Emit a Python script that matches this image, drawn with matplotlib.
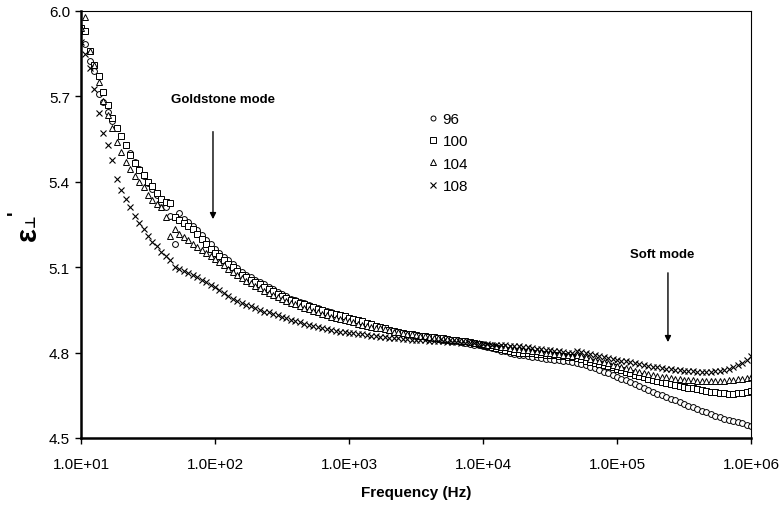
import matplotlib
matplotlib.use("Agg")
import matplotlib.pyplot as plt
from matplotlib.ticker import NullLocator

plt.rcParams['font.family'] = ['Liberation Sans', 'DejaVu Sans']

# frequency sweep (Hz), 30 points per decade
freq = [10, 10.8, 11.7, 12.6, 13.6, 14.7, 15.8, 17.1, 18.5, 20.0,
        21.5, 23.3, 25.1, 27.1, 29.3, 31.6, 34.1, 36.9, 39.8, 43.0,
        46.4, 50.1, 54.1, 58.4, 63.1, 68.1, 73.6, 79.4, 85.8, 92.6,
        100, 108, 117, 126, 136, 147, 158, 171, 185, 200,
        215, 233, 251, 271, 293, 316, 341, 369, 398, 430,
        464, 501, 541, 584, 631, 681, 736, 794, 858, 926,
        1000, 1080, 1170, 1260, 1360, 1470, 1580, 1710, 1850, 2000,
        2150, 2330, 2510, 2710, 2930, 3160, 3410, 3690, 3980, 4300,
        4640, 5010, 5410, 5840, 6310, 6810, 7360, 7940, 8580, 9260,
        10000, 10800, 11700, 12600, 13600, 14700, 15800, 17100, 18500, 20000,
        21500, 23300, 25100, 27100, 29300, 31600, 34100, 36900, 39800, 43000,
        46400, 50100, 54100, 58400, 63100, 68100, 73600, 79400, 85800, 92600,
        100000, 108000, 117000, 126000, 136000, 147000, 158000, 171000, 185000, 200000,
        215000, 233000, 251000, 271000, 293000, 316000, 341000, 369000, 398000, 430000,
        464000, 501000, 541000, 584000, 631000, 681000, 736000, 794000, 858000, 926000,
        1000000]

eps_96 = [5.93, 5.885, 5.825, 5.79, 5.71, 5.68, 5.645, 5.615, 5.59, 5.56,
          5.53, 5.50, 5.47, 5.445, 5.42, 5.395, 5.375, 5.355, 5.33, 5.31,
          5.28, 5.18, 5.29, 5.27, 5.258, 5.245, 5.23, 5.213, 5.195, 5.18,
          5.163, 5.15, 5.137, 5.124, 5.111, 5.096, 5.084, 5.074, 5.065, 5.056,
          5.048, 5.04, 5.032, 5.022, 5.013, 5.005, 4.998, 4.99, 4.984, 4.978,
          4.973, 4.967, 4.961, 4.956, 4.951, 4.946, 4.941, 4.936, 4.932, 4.928,
          4.923, 4.919, 4.914, 4.909, 4.904, 4.899, 4.894, 4.889, 4.885, 4.88,
          4.876, 4.872, 4.868, 4.865, 4.862, 4.859, 4.857, 4.855, 4.852, 4.85,
          4.848, 4.846, 4.844, 4.841, 4.839, 4.837, 4.834, 4.831, 4.828, 4.825,
          4.823, 4.819, 4.815, 4.811, 4.807, 4.804, 4.80, 4.796, 4.792, 4.79,
          4.787, 4.785, 4.783, 4.781, 4.779, 4.777, 4.775, 4.773, 4.771, 4.769,
          4.767, 4.764, 4.76, 4.755, 4.75, 4.745, 4.739, 4.733, 4.727, 4.721,
          4.716, 4.709, 4.702, 4.695, 4.688, 4.681, 4.674, 4.668, 4.662, 4.656,
          4.65, 4.644, 4.638, 4.632, 4.626, 4.62, 4.614, 4.608, 4.602, 4.596,
          4.59, 4.584, 4.578, 4.573, 4.568, 4.563, 4.559, 4.555, 4.551, 4.547,
          4.543]

eps_100 = [5.94, 5.93, 5.86, 5.81, 5.77, 5.715, 5.67, 5.625, 5.59, 5.56,
           5.53, 5.495, 5.465, 5.44, 5.425, 5.40, 5.385, 5.36, 5.34, 5.33,
           5.325, 5.275, 5.265, 5.255, 5.245, 5.233, 5.215, 5.20, 5.18, 5.165,
           5.15, 5.138, 5.125, 5.112, 5.10, 5.085, 5.073, 5.064, 5.055, 5.047,
           5.04, 5.032, 5.025, 5.015, 5.007, 5.0, 4.993, 4.986, 4.98, 4.975,
           4.97, 4.964, 4.959, 4.954, 4.949, 4.944, 4.94, 4.935, 4.931, 4.927,
           4.923, 4.919, 4.914, 4.91, 4.905, 4.90, 4.895, 4.89, 4.886, 4.881,
           4.877, 4.873, 4.87, 4.867, 4.864, 4.862, 4.86, 4.858, 4.856, 4.854,
           4.852, 4.85, 4.848, 4.846, 4.844, 4.842, 4.839, 4.836, 4.833, 4.83,
           4.827, 4.824, 4.82, 4.817, 4.813, 4.81, 4.806, 4.803, 4.80, 4.799,
           4.798, 4.797, 4.796, 4.794, 4.793, 4.792, 4.79, 4.789, 4.787, 4.786,
           4.784, 4.78, 4.776, 4.772, 4.768, 4.764, 4.76, 4.756, 4.752, 4.748,
           4.743, 4.738, 4.733, 4.728, 4.723, 4.718, 4.713, 4.708, 4.704, 4.70,
           4.696, 4.692, 4.689, 4.686, 4.683, 4.68, 4.677, 4.674, 4.671, 4.668,
           4.665, 4.662, 4.66, 4.658, 4.657, 4.656, 4.656, 4.657, 4.659, 4.662,
           4.665]

eps_104 = [5.94, 5.98, 5.86, 5.81, 5.75, 5.684, 5.635, 5.59, 5.54, 5.505,
           5.47, 5.445, 5.42, 5.40, 5.38, 5.355, 5.335, 5.322, 5.312, 5.275,
           5.21, 5.235, 5.217, 5.206, 5.195, 5.183, 5.17, 5.16, 5.15, 5.14,
           5.13, 5.118, 5.106, 5.094, 5.083, 5.072, 5.062, 5.052, 5.043, 5.034,
           5.026, 5.018, 5.01, 5.002, 4.995, 4.988, 4.981, 4.975, 4.969, 4.963,
           4.957, 4.952, 4.946, 4.941, 4.936, 4.931, 4.926, 4.922, 4.918, 4.914,
           4.91, 4.906, 4.902, 4.898, 4.895, 4.891, 4.888, 4.885, 4.882, 4.879,
           4.874, 4.871, 4.868, 4.866, 4.864, 4.862, 4.86, 4.857, 4.855, 4.853,
           4.851, 4.849, 4.847, 4.845, 4.843, 4.841, 4.839, 4.837, 4.835, 4.832,
           4.83, 4.828, 4.826, 4.824, 4.821, 4.819, 4.817, 4.814, 4.812, 4.81,
           4.808, 4.806, 4.804, 4.802, 4.80, 4.798, 4.796, 4.794, 4.792, 4.79,
           4.788, 4.79, 4.787, 4.783, 4.779, 4.775, 4.771, 4.767, 4.763, 4.758,
           4.753, 4.749, 4.745, 4.741, 4.737, 4.733, 4.729, 4.725, 4.722, 4.719,
           4.716, 4.713, 4.711, 4.709, 4.707, 4.705, 4.703, 4.702, 4.701, 4.70,
           4.699, 4.699, 4.699, 4.70, 4.701, 4.702, 4.704, 4.706, 4.709, 4.712,
           4.716]

eps_108 = [5.89, 5.85, 5.80, 5.726, 5.64, 5.57, 5.53, 5.475, 5.41, 5.37,
           5.34, 5.31, 5.28, 5.255, 5.235, 5.21, 5.19, 5.175, 5.155, 5.14,
           5.125, 5.10, 5.095, 5.088, 5.08, 5.072, 5.064, 5.056, 5.047, 5.038,
           5.03, 5.02, 5.01, 5.0, 4.99, 4.982, 4.975, 4.968, 4.962, 4.956,
           4.95, 4.944, 4.942, 4.937, 4.932, 4.926, 4.921, 4.916, 4.911, 4.906,
           4.90, 4.896, 4.892, 4.889, 4.886, 4.883, 4.88, 4.877, 4.874, 4.872,
           4.87, 4.868, 4.866, 4.864, 4.862, 4.86, 4.858, 4.856, 4.854, 4.852,
           4.851, 4.85, 4.848, 4.847, 4.846, 4.845, 4.844, 4.843, 4.842, 4.841,
           4.84, 4.839, 4.838, 4.837, 4.836, 4.835, 4.834, 4.833, 4.832, 4.831,
           4.83, 4.829, 4.828, 4.827, 4.826, 4.825, 4.824, 4.823, 4.822, 4.82,
           4.818, 4.816, 4.814, 4.812, 4.81, 4.808, 4.806, 4.804, 4.802, 4.80,
           4.798, 4.804, 4.801, 4.798, 4.795, 4.792, 4.789, 4.786, 4.782, 4.778,
           4.775, 4.772, 4.769, 4.766, 4.763, 4.76, 4.757, 4.754, 4.751, 4.748,
           4.746, 4.744, 4.742, 4.74, 4.738, 4.736, 4.735, 4.734, 4.733, 4.732,
           4.732, 4.733, 4.734, 4.736, 4.739, 4.743, 4.748, 4.755, 4.763, 4.774,
           4.787]

series_labels = ['96', '100', '104', '108']
xtick_vals = [1e1, 1e2, 1e3, 1e4, 1e5, 1e6]
xtick_labels = ['1.0E+01', '1.0E+02', '1.0E+03', '1.0E+04', '1.0E+05', '1.0E+06']
ytick_vals = [4.5, 4.8, 5.1, 5.4, 5.7, 6.0]

fig = plt.figure(figsize=(7.83, 5.06), dpi=100)
ax = fig.add_axes([81/783, 1 - 439/506, 670/783, 427/506])

ax.plot(freq, eps_96, 'o', ms=4.2, mfc='white', mec='black', mew=0.7, label=series_labels[0])
ax.plot(freq, eps_100, 's', ms=4.6, mfc='white', mec='black', mew=0.7, label=series_labels[1])
ax.plot(freq, eps_104, '^', ms=4.6, mfc='white', mec='black', mew=0.7, label=series_labels[2])
ax.plot(freq, eps_108, 'x', ms=4.6, color='black', mew=0.8, label=series_labels[3])

ax.set_xscale('log')
ax.set_xlim(10, 1e6)
ax.set_ylim(4.5, 6.0)
ax.set_xticks(xtick_vals)
ax.set_xticklabels(xtick_labels)
ax.xaxis.set_minor_locator(NullLocator())
ax.set_yticks(ytick_vals)
ax.set_yticklabels(['%.1f' % v for v in ytick_vals])
ax.tick_params(axis='both', direction='out', length=4, width=1, labelsize=11, colors='black')
ax.tick_params(axis='x', pad=10)
ax.tick_params(axis='y', pad=4)

ax.spines['left'].set_linewidth(1.8)
ax.spines['bottom'].set_linewidth(1.8)
ax.spines['top'].set_linewidth(0.8)
ax.spines['right'].set_linewidth(0.8)

# y label: epsilon perp prime, built from pieces
fig.text(28/783, 1 - 234/506, 'ε', rotation=90, ha='center', va='center',
         fontsize=21, fontweight='bold')
fig.text(31/783, 1 - 221/506, '⊥', rotation=90, ha='center', va='center',
         fontsize=10, fontweight='bold', family=['DejaVu Sans'])
fig.text(15/783, 1 - 213/506, "'", rotation=90, ha='center', va='center',
         fontsize=14, fontweight='bold')

fig.text(416/783, 1 - 493/506, 'Frequency (Hz)', ha='center', va='center',
         fontsize=11, fontweight='bold')

ax.annotate('', xy=(96.6, 5.259), xytext=(96.6, 5.586),
            arrowprops=dict(arrowstyle='-|>', color='black', lw=1, mutation_scale=9))
ax.text(115, 5.69, 'Goldstone mode', ha='center', va='center', fontsize=9.5, fontweight='bold')
ax.annotate('', xy=(2.4e5, 4.827), xytext=(2.4e5, 5.09),
            arrowprops=dict(arrowstyle='-|>', color='black', lw=1, mutation_scale=9))
ax.text(2.17e5, 5.146, 'Soft mode', ha='center', va='center', fontsize=9.5, fontweight='bold')

ax.legend(loc='upper left', bbox_to_anchor=(428/783, 1 - 113/506), bbox_transform=fig.transFigure,
          frameon=False, fontsize=11, markerscale=0.85, handlelength=0.6, handletextpad=0.35,
          labelspacing=0.55, borderpad=0, borderaxespad=0, numpoints=1)

fig.savefig('out.png', dpi=100)
